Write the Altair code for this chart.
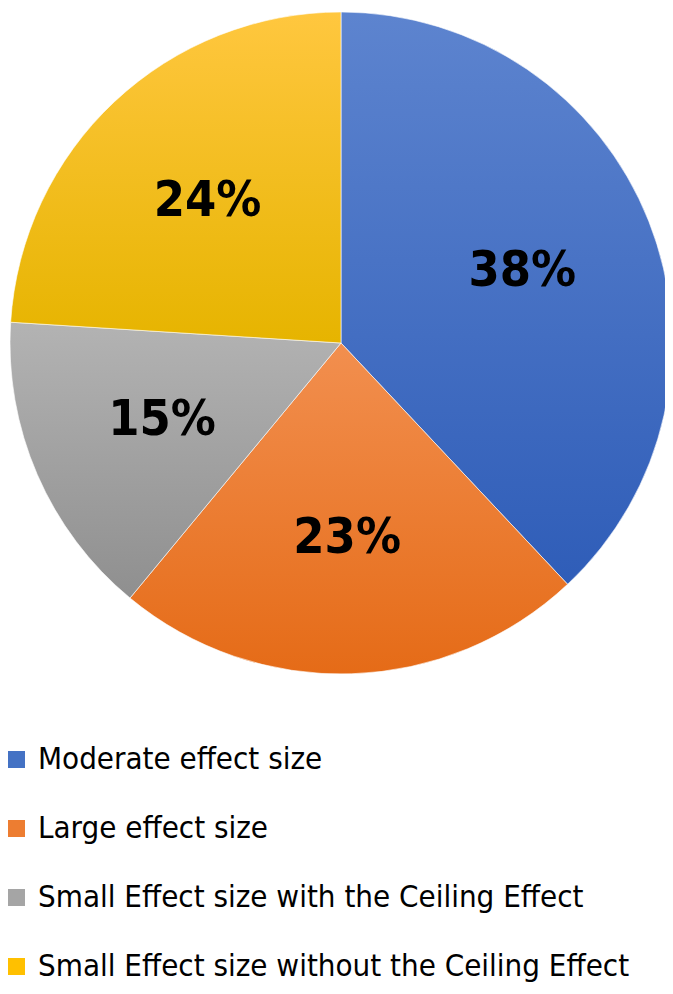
import altair as alt
import pandas as pd

categories = [
    "Moderate effect size",
    "Large effect size",
    "Small Effect size with the Ceiling Effect",
    "Small Effect size without the Ceiling Effect",
]
values = [38, 23, 15, 24]
labels = ["38%", "23%", "15%", "24%"]
solid_colors = ["#4472c4", "#ed7d31", "#a5a5a5", "#ffc000"]
grad_top = ["#5d84cf", "#f28f4f", "#b3b3b3", "#ffc73f"]
grad_bottom = ["#2f5db8", "#e56b17", "#8f8f8f", "#e6b400"]

df = pd.DataFrame({"cat": categories, "value": values, "label": labels, "idx": list(range(len(categories)))})

def grad(t, b):
    return {
        "gradient": "linear", "x1": 0, "y1": 0, "x2": 0, "y2": 1,
        "stops": [{"offset": 0, "color": t}, {"offset": 1, "color": b}],
    }

conds = [
    {"test": f"datum.cat === '{c}'", "value": grad(t, b)}
    for c, t, b in zip(categories, grad_top, grad_bottom)
]

FONT = "'DejaVu Sans Condensed', 'DejaVu Sans', sans-serif"

cx, cy, R = 331, 335, 331

base = alt.Chart(df).encode(
    theta=alt.Theta("value:Q", stack=True),
    order=alt.Order("idx:Q"),
)

arcs = base.mark_arc(radius=R, stroke="white", strokeWidth=0.6).encode(
    x=alt.value(cx),
    y=alt.value(cy),
    color=alt.Color(
        "cat:N",
        scale=alt.Scale(domain=categories, range=solid_colors),
        sort=categories,
        condition=conds,
        legend=alt.Legend(
            title=None,
            orient="none",
            legendX=-9,
            legendY=736,
            padding=0,
            offset=0,
            direction="vertical",
            symbolType="square",
            symbolSize=290,
            symbolStrokeWidth=0,
            symbolOffset=0,
            labelFont=FONT,
            labelFontSize=31,
            labelColor="#000000",
            labelLimit=800,
            labelOffset=6,
            rowPadding=37,
        ),
    ),
)

text = base.mark_text(
    radius=195, font=FONT, fontSize=50, fontWeight="bold", color="#000000"
).encode(
    x=alt.value(cx),
    y=alt.value(cy),
    text="label:N",
)

chart = (
    alt.layer(arcs, text)
    .properties(width=657, height=978, padding=0,
                autosize=alt.AutoSizeParams(type="fit", contains="padding"))
    .configure_view(stroke=None)
)

chart.save("out.html", embed_options={"renderer": "svg", "actions": False})
